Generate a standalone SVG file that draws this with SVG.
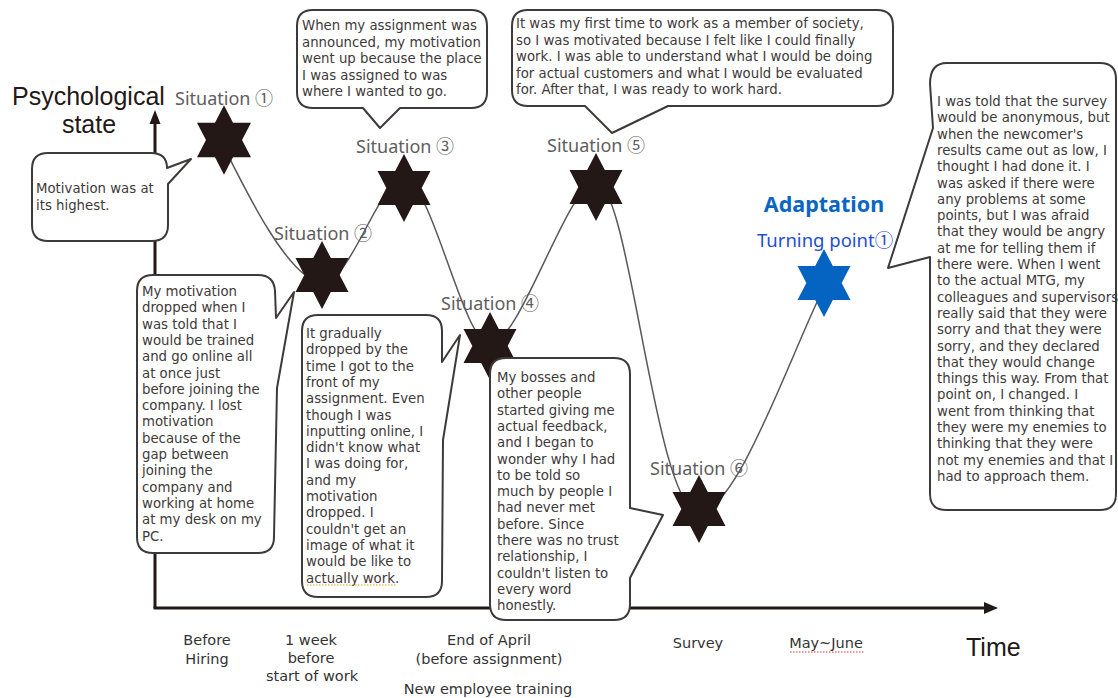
<svg xmlns="http://www.w3.org/2000/svg" xmlns:xlink="http://www.w3.org/1999/xlink" width="1118" height="698" viewBox="0 0 1118 698">
  <style>
    .axis { stroke: #231815; stroke-width: 3; fill: none; }
    .head { fill: #231815; }
    .curve { stroke: #595757; stroke-width: 1.5; fill: none; }
    .bubble { fill: #ffffff; stroke: #3e3a39; stroke-width: 2; stroke-linejoin: round; }
    .note { font-family: "DejaVu Sans", "Liberation Sans", sans-serif; font-size: 13.3px; fill: #3e3a39; }
    .sit { font-family: "Noto Sans", "Noto Sans CJK JP", sans-serif; font-size: 18px; fill: #5f5e5e; }
    .tick { font-family: "DejaVu Sans", "Liberation Sans", sans-serif; font-size: 14.5px; fill: #333333; text-anchor: middle; }
    .title { font-family: "Liberation Sans", "Noto Sans", sans-serif; font-size: 25px; fill: #231815; }
    .star { fill: #231815; }
    .star-blue { fill: #0563c1; }
  </style>
  <defs>
    <!-- six-pointed star, outer radius 34 -->
    <path id="star" d="M0,-34 L8.83,-17 L26.5,-17 L17.67,0 L26.5,17 L8.83,17 L0,34 L-8.83,17 L-26.5,17 L-17.67,0 L-26.5,-17 L-8.83,-17 Z"/>
  </defs>

  <!-- axes -->
  <g id="axes">
    <line class="axis" x1="155" y1="608" x2="155" y2="121"/>
    <polygon class="head" points="155,110 149.5,124 160.5,124"/>
    <line class="axis" x1="153.5" y1="608" x2="986" y2="608"/>
    <polygon class="head" points="998,608 984,602 984,614"/>
  </g>

  <!-- axis titles -->
  <g id="axis-titles">
    <text class="title" x="12" y="105">Psychological</text>
    <text class="title" x="89" y="133" text-anchor="middle">state</text>
    <text class="title" x="966" y="656" font-size="26">Time</text>
  </g>

  <!-- time labels -->
  <g id="time-labels">
    <text class="tick" x="207" y="645">Before</text>
    <text class="tick" x="207" y="664">Hiring</text>
    <text class="tick" x="311" y="645">1 week</text>
    <text class="tick" x="311" y="663">before</text>
    <text class="tick" x="312" y="681">start of work</text>
    <text class="tick" x="489" y="645">End of April</text>
    <text class="tick" x="489" y="664">(before assignment)</text>
    <text class="tick" x="488" y="694">New employee training</text>
    <text class="tick" x="698" y="648">Survey</text>
    <text class="tick" x="826" y="648">May~June</text>
    <path d="M790,652 H864" stroke="#e03030" stroke-width="1" stroke-dasharray="1.5 1.5"/>
  </g>

  <!-- motivation curve -->
  <g id="connectors">
    <path class="curve" d="M219,137 C245,190 290,282 322,282 C352,282 378,180 404,180 C432,180 463,344 490,344 C520,344 568,182 596,182 C630,182 655,512 699,512 C735,512 785,370 818,300"/>
  </g>

  <!-- situation nodes -->
  <g id="situation-1">
    <use href="#star" class="star" transform="translate(224,140) scale(1.02)"/>
    <text class="sit" x="175" y="105">Situation ①</text>
  </g>
  <g id="situation-2">
    <use href="#star" class="star" transform="translate(322,275)"/>
    <text class="sit" x="274" y="240">Situation ②</text>
  </g>
  <g id="situation-3">
    <use href="#star" class="star" transform="translate(404,188)"/>
    <text class="sit" x="356" y="153">Situation ③</text>
  </g>
  <g id="situation-4">
    <use href="#star" class="star" transform="translate(490,346)"/>
    <text class="sit" x="441" y="310">Situation ④</text>
  </g>
  <g id="situation-5">
    <use href="#star" class="star" transform="translate(596,187)"/>
    <text class="sit" x="547" y="152">Situation ⑤</text>
  </g>
  <g id="situation-6">
    <use href="#star" class="star" transform="translate(699,509)"/>
    <text class="sit" x="650" y="475">Situation ⑥</text>
  </g>
  <g id="turning-point-1">
    <use href="#star" class="star-blue" transform="translate(824,283)"/>
    <text x="824" y="212" text-anchor="middle" font-family="Noto Sans, Noto Sans CJK JP, sans-serif" font-size="21.5" font-weight="bold" fill="#0a66c2">Adaptation</text>
    <text x="757" y="247" font-family="Noto Sans, Noto Sans CJK JP, sans-serif" font-size="18.5" fill="#1f4fd0">Turning point①</text>
  </g>

  <!-- speech bubbles -->
  <g id="note-highest">
    <path class="bubble" d="M48,153 H151 Q167,153 167,168 L191,159 L168,184 V225 Q168,241 152,241 H48 Q32,241 32,225 V169 Q32,153 48,153 Z"/>
    <text class="note" x="36" y="193">Motivation was at<tspan x="36" dy="17">its highest.</tspan></text>
  </g>

  <g id="note-assignment">
    <path class="bubble" d="M313,10 H471 Q487,10 487,26 V92 Q487,108 471,108 H400 L380,128 L363,108 H313 Q297,108 297,92 V26 Q297,10 313,10 Z"/>
    <text class="note" x="302" y="30">When my assignment was<tspan x="302" dy="16.6">announced, my motivation</tspan><tspan x="302" dy="16.6">went up because the place</tspan><tspan x="302" dy="16.6">I was assigned to was</tspan><tspan x="302" dy="16.6">where I wanted to go.</tspan></text>
  </g>

  <g id="note-first-time">
    <path class="bubble" d="M528,10 H877 Q893,10 893,26 V90 Q893,106 877,106 H668 L612,133 L585,106 H528 Q512,106 512,90 V26 Q512,10 528,10 Z"/>
    <text class="note" x="516" y="28">It was my first time to work as a member of society,<tspan x="516" dy="16.6">so I was motivated because I felt like I could finally</tspan><tspan x="516" dy="16.6">work. I was able to understand what I would be doing</tspan><tspan x="516" dy="16.6">for actual customers and what I would be evaluated</tspan><tspan x="516" dy="16.6">for. After that, I was ready to work hard.</tspan></text>
  </g>

  <g id="note-survey">
    <path class="bubble" d="M947,63 H1100 Q1116,63 1116,79 V494 Q1116,510 1100,510 H946 Q930,510 930,494 V257 L888,268 L933,128 L930,84 Q930,63 947,63 Z"/>
    <text class="note" x="937" y="106" font-size="12.9">I was told that the survey<tspan x="937" dy="16.3">would be anonymous, but</tspan><tspan x="937" dy="16.3">when the newcomer's</tspan><tspan x="937" dy="16.3">results came out as low, I</tspan><tspan x="937" dy="16.3">thought I had done it. I</tspan><tspan x="937" dy="16.3">was asked if there were</tspan><tspan x="937" dy="16.3">any problems at some</tspan><tspan x="937" dy="16.3">points, but I was afraid</tspan><tspan x="937" dy="16.3">that they would be angry</tspan><tspan x="937" dy="16.3">at me for telling them if</tspan><tspan x="937" dy="16.3">there were. When I went</tspan><tspan x="937" dy="16.3">to the actual MTG, my</tspan><tspan x="937" dy="16.3">colleagues and supervisors</tspan><tspan x="937" dy="16.3">really said that they were</tspan><tspan x="937" dy="16.3">sorry and that they were</tspan><tspan x="937" dy="16.3">sorry, and they declared</tspan><tspan x="937" dy="16.3">that they would change</tspan><tspan x="937" dy="16.3">things this way. From that</tspan><tspan x="937" dy="16.3">point on, I changed. I</tspan><tspan x="937" dy="16.3">went from thinking that</tspan><tspan x="937" dy="16.3">they were my enemies to</tspan><tspan x="937" dy="16.3">thinking that they were</tspan><tspan x="937" dy="16.3">not my enemies and that I</tspan><tspan x="937" dy="16.3">had to approach them.</tspan></text>
  </g>

  <g id="note-online">
    <path class="bubble" d="M153,275 H258 Q274,275 275,291 L276,318 L294,292 L277,388 L274,537 Q274,553 258,553 H153 Q137,553 137,537 V291 Q137,275 153,275 Z"/>
    <text class="note" x="142" y="296">My motivation<tspan x="142" dy="16.3">dropped when I</tspan><tspan x="142" dy="16.3">was told that I</tspan><tspan x="142" dy="16.3">would be trained</tspan><tspan x="142" dy="16.3">and go online all</tspan><tspan x="142" dy="16.3">at once just</tspan><tspan x="142" dy="16.3">before joining the</tspan><tspan x="142" dy="16.3">company. I lost</tspan><tspan x="142" dy="16.3">motivation</tspan><tspan x="142" dy="16.3">because of the</tspan><tspan x="142" dy="16.3">gap between</tspan><tspan x="142" dy="16.3">joining the</tspan><tspan x="142" dy="16.3">company and</tspan><tspan x="142" dy="16.3">working at home</tspan><tspan x="142" dy="16.3">at my desk on my</tspan><tspan x="142" dy="16.3">PC.</tspan></text>
  </g>

  <g id="note-dropped">
    <path class="bubble" d="M318,315 H426 Q442,315 442,331 L442,362 L460,335 L443,440 L442,581 Q442,597 426,597 H318 Q302,597 302,581 V331 Q302,315 318,315 Z"/>
    <text class="note" x="306" y="338">It gradually<tspan x="306" dy="16.3">dropped by the</tspan><tspan x="306" dy="16.3">time I got to the</tspan><tspan x="306" dy="16.3">front of my</tspan><tspan x="306" dy="16.3">assignment. Even</tspan><tspan x="306" dy="16.3">though I was</tspan><tspan x="306" dy="16.3">inputting online, I</tspan><tspan x="306" dy="16.3">didn't know what</tspan><tspan x="306" dy="16.3">I was doing for,</tspan><tspan x="306" dy="16.3">and my</tspan><tspan x="306" dy="16.3">motivation</tspan><tspan x="306" dy="16.3">dropped. I</tspan><tspan x="306" dy="16.3">couldn't get an</tspan><tspan x="306" dy="16.3">image of what it</tspan><tspan x="306" dy="16.3">would be like to</tspan><tspan x="306" dy="16.3">actually work.</tspan></text>
    <path d="M307,585 H397" stroke="#d4a017" stroke-width="1" stroke-dasharray="1.5 1.5"/>
  </g>

  <g id="note-feedback">
    <path class="bubble" d="M506,358 H614 Q630,358 630,374 V508 L663,515 L630,578 V604 Q630,620 614,620 H506 Q490,620 490,604 V374 Q490,358 506,358 Z"/>
    <text class="note" x="497" y="382">My bosses and<tspan x="497" dy="16.3">other people</tspan><tspan x="497" dy="16.3">started giving me</tspan><tspan x="497" dy="16.3">actual feedback,</tspan><tspan x="497" dy="16.3">and I began to</tspan><tspan x="497" dy="16.3">wonder why I had</tspan><tspan x="497" dy="16.3">to be told so</tspan><tspan x="497" dy="16.3">much by people I</tspan><tspan x="497" dy="16.3">had never met</tspan><tspan x="497" dy="16.3">before. Since</tspan><tspan x="497" dy="16.3">there was no trust</tspan><tspan x="497" dy="16.3">relationship, I</tspan><tspan x="497" dy="16.3">couldn't listen to</tspan><tspan x="497" dy="16.3">every word</tspan><tspan x="497" dy="16.3">honestly.</tspan></text>
  </g>
</svg>
